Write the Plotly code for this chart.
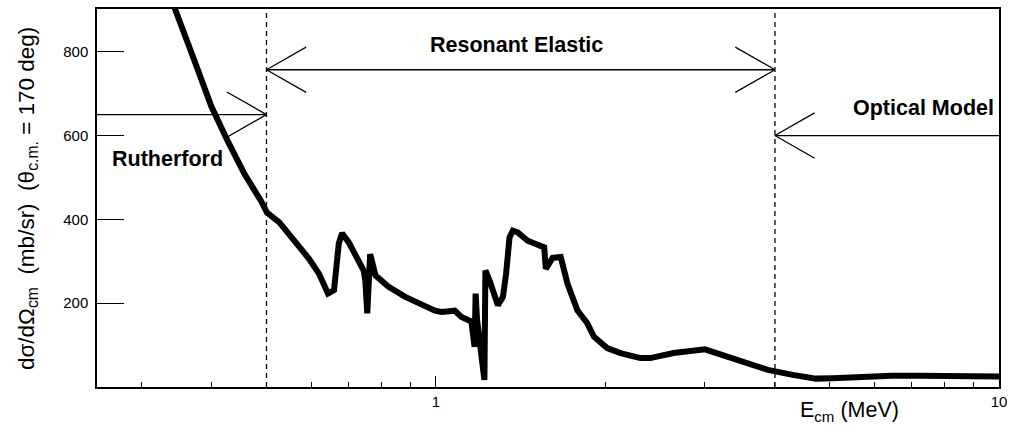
import math
import plotly.graph_objects as go

# ---- data ----
energy_mev = [0.338, 0.344, 0.373, 0.399, 0.427, 0.457, 0.489, 0.501, 0.527, 0.572,
              0.595, 0.620, 0.643, 0.659, 0.672, 0.681, 0.700, 0.744, 0.749, 0.755,
              0.764, 0.781, 0.824, 0.882, 0.943, 0.996, 1.023, 1.080, 1.110, 1.140,
              1.156, 1.171, 1.176, 1.183, 1.219, 1.224, 1.245, 1.288, 1.315, 1.332,
              1.351, 1.369, 1.397, 1.455, 1.526, 1.557, 1.567, 1.611, 1.666, 1.712,
              1.783, 1.857, 1.908, 2.014, 2.127, 2.306, 2.402, 2.642, 3.004, 3.417,
              3.886, 4.301, 4.729, 5.061, 5.490, 6.458, 7.194, 8.241, 9.060, 10.0]
cross_section = [937, 902, 776, 670, 586, 508, 444, 416, 393, 333,
                 306, 270, 223, 231, 342, 367, 345, 278, 254, 176,
                 317, 266, 239, 215, 195, 182, 179, 182, 167, 160,
                 156, 96, 223, 160, 17, 278, 254, 195, 215, 270,
                 357, 373, 369, 349, 337, 333, 282, 308, 310, 247,
                 183, 152, 120, 93, 81, 69, 69, 81, 90, 65,
                 41, 29, 20, 21, 24, 27, 27, 25, 24, 25]

region_bounds = [0.5, 4.0]          # MeV, dashed separators
x_range = [0.25, 10.0]
y_range = [0, 902]
y_tickvals = [200, 400, 600, 800]
x_tickvals = [1, 10]
x_ticktext = ["1", "10"]
x_minor = [0.3, 0.4, 0.5, 0.6, 0.7, 0.8, 0.9, 2, 3, 4, 5, 6, 7, 8, 9]

rutherford_level = 650
resonant_level = 757
optical_level = 600
head_factor = 1.176   # arrow head length (multiplicative on log axis)
head_half = 54        # arrow head half height (mb/sr)

FONT = "Liberation Sans, Arial, sans-serif"

fig = go.Figure()

# dashed region separators
for b in region_bounds:
    fig.add_trace(go.Scatter(x=[b, b], y=y_range, mode="lines",
                             line=dict(color="black", width=1.3, dash="5px,4px"),
                             hoverinfo="skip", showlegend=False))

def arrow(x_from, x_to, level, both=False):
    xs = [x_from, x_to, None]
    ys = [level, level, None]
    def head(tip, direction):
        back = tip / head_factor if direction > 0 else tip * head_factor
        return [back, tip, back, None], [level + head_half, level, level - head_half, None]
    hx, hy = head(x_to, 1 if x_to > x_from else -1)
    xs += hx; ys += hy
    if both:
        hx, hy = head(x_from, 1 if x_from > x_to else -1)
        xs += hx; ys += hy
    return xs, ys

for xs, ys in [arrow(x_range[0], region_bounds[0], rutherford_level),
               arrow(region_bounds[0], region_bounds[1], resonant_level, both=True),
               arrow(x_range[1], region_bounds[1], optical_level)]:
    fig.add_trace(go.Scatter(x=xs, y=ys, mode="lines",
                             line=dict(color="black", width=1.3),
                             hoverinfo="skip", showlegend=False))

# main curve
fig.add_trace(go.Scatter(x=energy_mev, y=cross_section, mode="lines",
                         line=dict(color="black", width=6),
                         showlegend=False))

def label(text, x, y, size, angle=0, bold=False):
    return dict(text=f"<b>{text}</b>" if bold else text, x=x, y=y,
                xref="paper", yref="paper", xanchor="center", yanchor="middle",
                textangle=angle, showarrow=False,
                font=dict(size=size, family=FONT, color="black"))

fig.update_layout(
    width=1014, height=431,
    margin=dict(l=97, r=10, t=7, b=44),
    paper_bgcolor="white", plot_bgcolor="white",
    font=dict(family=FONT, color="black", size=15),
    xaxis=dict(type="log", range=[math.log10(x_range[0]), math.log10(x_range[1])],
               tickmode="array", tickvals=x_tickvals, ticktext=x_ticktext,
               ticks="inside", ticklen=11, tickwidth=1.3, tickcolor="black",
               showline=True, linecolor="black", linewidth=1.5, mirror=True,
               showgrid=False, zeroline=False,
               tickfont=dict(size=15, family=FONT),
               minor=dict(tickmode="array", tickvals=x_minor, ticks="inside",
                          ticklen=5, tickwidth=1.1, tickcolor="black", showgrid=False)),
    yaxis=dict(range=y_range, tickmode="array", tickvals=y_tickvals,
               ticks="inside", ticklen=27, tickwidth=1.3, tickcolor="black",
               showline=True, linecolor="black", linewidth=1.5, mirror=True,
               showgrid=False, zeroline=False, ticklabelstandoff=4,
               tickfont=dict(size=15, family=FONT)),
    annotations=[
        label("Resonant Elastic", 0.4653, 0.906, 21.5, bold=True),
        label("Rutherford", 0.0778, 0.603, 21.5, bold=True),
        label("Optical Model", 0.9166, 0.737, 21.5, bold=True),
        label("dσ/dΩ<sub>cm</sub>\u00a0\u00a0(mb/sr)\u00a0\u00a0(θ<sub>c.m.</sub> = 170 deg)",
              -0.0772, 0.498, 22.5, angle=-90),
        label("E<sub>cm</sub> (MeV)", 0.8346, -0.065, 21.5),
    ],
)

fig.write_html("out.html", config={"displayModeBar": False},
               post_script="document.body.style.margin='0';document.body.style.padding='0';")
